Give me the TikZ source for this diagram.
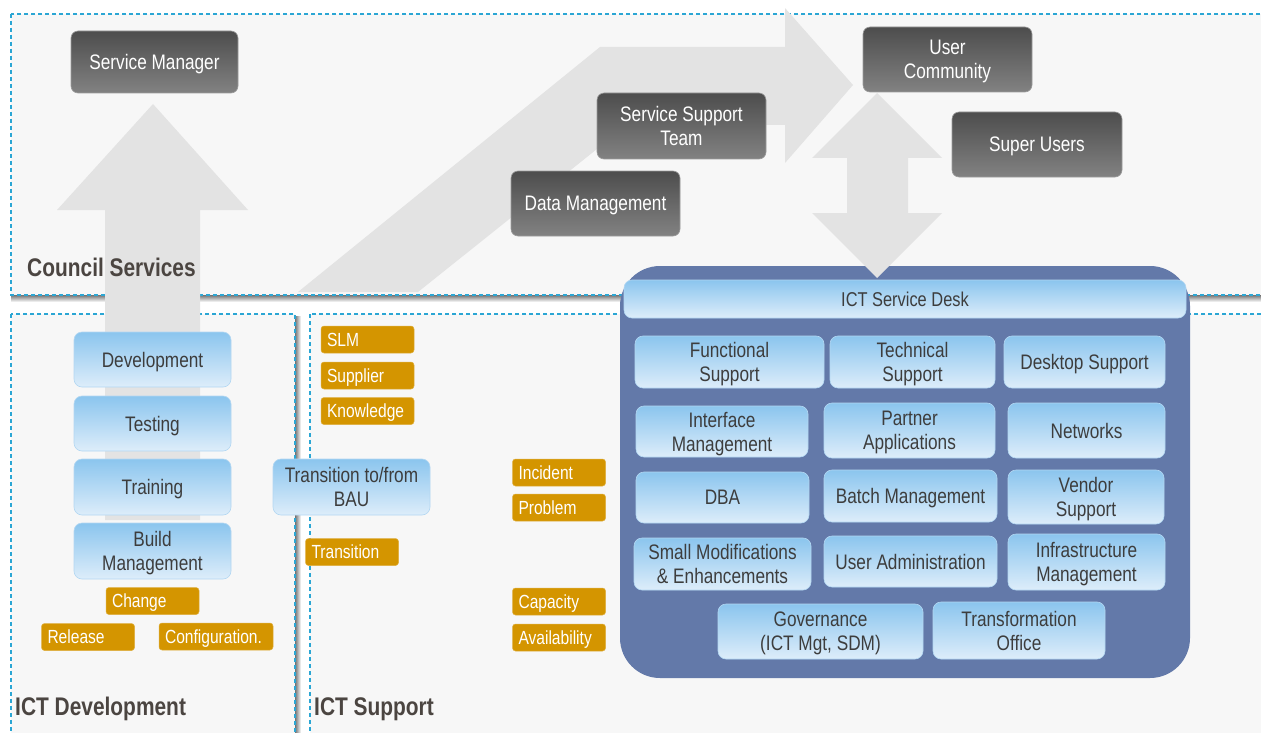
\documentclass[tikz,border=0pt]{standalone}
\usepackage{fontspec}
\setmainfont{Liberation Sans}[FakeStretch=0.82]
\definecolor{panelfill}{HTML}{F7F7F7}
\definecolor{dashblue}{HTML}{2BA6D4}
\definecolor{arrowgray}{HTML}{E3E3E3}
\definecolor{darktop}{HTML}{4D4D4D}
\definecolor{darkbot}{HTML}{828282}
\definecolor{darkedge}{HTML}{9C9C9C}
\definecolor{bluetop}{HTML}{8BC5EE}
\definecolor{bluebot}{HTML}{DDEDFA}
\definecolor{blueedge}{HTML}{B3D7F2}
\definecolor{contblue}{HTML}{6379A9}
\definecolor{tagorange}{HTML}{D49500}
\definecolor{boxtext}{HTML}{3D3D3D}
\definecolor{areatext}{HTML}{4B4541}

\begin{document}
\begin{tikzpicture}[x=1pt,y=-1pt,
    wh/.style 2 args={minimum width=#1pt,minimum height=#2pt},
    panel/.style={fill=panelfill,draw=dashblue,line width=1.2pt,dash pattern=on 4pt off 3pt},
    bigarrow/.style={fill=arrowgray},
    darkbox/.style={rounded corners=7pt,top color=darktop,bottom color=darkbot,draw=darkedge,line width=.6pt,
        text=white,font=\fontsize{21}{24}\selectfont,align=center,inner sep=0pt,text depth=0pt},
    bluebox/.style={rounded corners=8pt,top color=bluetop,bottom color=bluebot,draw=blueedge,line width=.6pt,
        text=boxtext,font=\fontsize{21}{24}\selectfont,align=center,inner sep=0pt,text depth=0pt},
    tag/.style={rounded corners=3pt,fill=tagorange,draw=tagorange!75!white,line width=.5pt,text=white,
        font=\fontsize{19}{21}\selectfont,align=left,text width=81pt,inner xsep=6pt,inner ysep=0pt,
        minimum height=27pt,text depth=0pt},
    area/.style={text=areatext,font=\fontsize{25.5}{28}\selectfont\bfseries,anchor=west,inner sep=0pt}]

    \useasboundingbox (0,0) rectangle (1261,733);

    % areas
    \fill[top color=black!55,bottom color=white] (11,295) rectangle (1275,302);
    \fill[left color=black!55,right color=white] (295,316) rectangle (301,745);
    \draw[panel] (11,14) rectangle (1275,295);
    \draw[panel] (11,314) rectangle (295,745);
    \draw[panel] (310,314) rectangle (1275,745);

    % flow arrows
    \fill[bigarrow] (105,520) -- (105,210) -- (57,210) -- (153,104) -- (248,210) -- (200,210) -- (200,520) -- cycle;
    \fill[bigarrow] (298,292) -- (600,47) -- (785,47) -- (785,8) -- (853,85) -- (785,163) -- (785,125) -- (627,125) -- (418,292) -- cycle;

    \node[wh={570}{412},rounded corners=40pt,fill=contblue,inner sep=0pt] (ictsupp) at (905,472) {};

    \fill[bigarrow] (847,213) -- (812,213) -- (877,278) -- (942,213) -- (908,213) -- (908,158) -- (942,158) -- (877,93) -- (812,158) -- (847,158) -- cycle;

    \node[area] (lblcouncil) at (27,267) {Council Services};
    \node[area] (lbldev) at (15,709) {ICT Development};
    \node[area] (lblsupp) at (314,709) {ICT Support};

    % council services
    \node[darkbox,wh={167}{62}] (svcmgr) at (154.5,62) {Service Manager};
    \node[darkbox,wh={169}{66}] (sst) at (681.5,126) {Service Support\\Team};
    \node[darkbox,wh={169}{65}] (datam) at (595.5,203.5) {Data Management};
    \node[darkbox,wh={169}{65}] (usercom) at (947.5,59.5) {User\\Community};
    \node[darkbox,wh={170}{65}] (superu) at (1037,144.5) {Super Users};

    % ict development
    \node[bluebox,wh={157}{55}] (dev) at (152.5,359.5) {Development};
    \node[bluebox,wh={157}{55}] (test) at (152.5,423.5) {Testing};
    \node[bluebox,wh={157}{56}] (train) at (152.5,487) {Training};
    \node[bluebox,wh={157}{56}] (build) at (152.5,551) {Build\\Management};
    \node[bluebox,wh={157}{56}] (tbau) at (351.5,487) {Transition to/from\\BAU};

    \node[tag] (chg) at (152.5,601) {Change};
    \node[tag] (rel) at (88,637) {Release};
    \node[tag,text width=102pt] (conf) at (216,636.5) {Configuration.};

    % ict support
    \node[tag] (slm) at (367.5,339.5) {SLM};
    \node[tag] (supp) at (367.5,375.5) {Supplier};
    \node[tag] (know) at (367.5,411) {Knowledge};
    \node[tag] (trans) at (352,552) {Transition};
    \node[tag] (inc) at (559,472.5) {Incident};
    \node[tag] (prob) at (559,507.5) {Problem};
    \node[tag] (cap) at (559,601.5) {Capacity};
    \node[tag] (avail) at (559,637.5) {Availability};

    \node[bluebox,wh={562}{38},font=\fontsize{20}{22}\selectfont] (desk) at (905,299) {ICT Service Desk};
    \node[bluebox,wh={189}{52}] (func) at (729.5,362) {Functional\\Support};
    \node[bluebox,wh={165}{52}] (tech) at (912.5,362) {Technical\\Support};
    \node[bluebox,wh={161}{52}] (dsk) at (1084.5,362) {Desktop Support};
    \node[bluebox,wh={172}{51}] (intf) at (722,431.5) {Interface\\Management};
    \node[bluebox,wh={171}{55}] (part) at (909.5,430.5) {Partner\\Applications};
    \node[bluebox,wh={157}{55}] (net) at (1086.5,430.5) {Networks};
    \node[bluebox,wh={173}{51}] (dba) at (722.5,497.5) {DBA};
    \node[bluebox,wh={173}{52}] (batch) at (910.5,496) {Batch Management};
    \node[bluebox,wh={156}{54}] (vend) at (1086,497) {Vendor\\Support};
    \node[bluebox,wh={177}{52}] (smod) at (722.5,564) {Small Modifications\\\& Enhancements};
    \node[bluebox,wh={173}{51}] (uadm) at (910.5,561.5) {User Administration};
    \node[bluebox,wh={157}{56}] (infra) at (1086.5,562) {Infrastructure\\Management};
    \node[bluebox,wh={205}{55}] (gov) at (820.5,631.5) {Governance\\(ICT Mgt, SDM)};
    \node[bluebox,wh={172}{57}] (tro) at (1019,630.5) {Transformation\\Office};
\end{tikzpicture}
\end{document}
